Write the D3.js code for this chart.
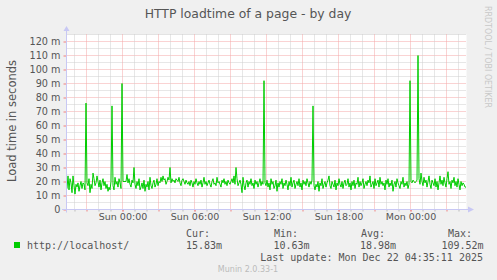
<!DOCTYPE html>
<html>
<head>
<meta charset="utf-8">
<script src="https://cdn.jsdelivr.net/npm/d3@7"></script>
<style>
  html, body { margin: 0; padding: 0; background: #f0f0f0; }
  svg { display: block; }
</style>
</head>
<body>
<script>
// load time samples (milliseconds), one every 5 minutes, oldest first
const loadtime = [
  15, 24, 14, 22, 19, 12, 24, 17, 11, 18, 16, 19, 13, 17, 20, 15, 19, 18, 14, 76,
  19, 17, 22, 12, 18, 15, 26, 22, 17, 19, 24, 20, 16, 21, 14, 19, 22, 17, 20, 15,
  18, 13, 16, 14, 20, 74, 17, 14, 23, 18, 20, 16, 22, 19, 15, 90, 20, 20, 20, 20,
  25, 19, 22, 18, 16, 21, 19, 30, 18, 15, 20, 17, 22, 14, 16, 19, 15, 21, 13, 18,
  16, 20, 14, 23, 17, 15, 19, 21, 16, 18, 22, 17, 20, 19, 23, 20, 24, 21, 22, 18,
  20, 23, 21, 30, 19, 22, 20, 21, 19, 22, 21, 20, 23, 19, 17, 21, 22, 20, 18, 21,
  19, 18, 20, 17, 21, 19, 16, 20, 18, 22, 19, 17, 20, 18, 21, 16, 19, 23, 18, 20,
  17, 19, 21, 18, 16, 20, 22, 18, 19, 17, 23, 19, 20, 18, 16, 21, 19, 22, 18, 20,
  17, 21, 19, 18, 20, 22, 19, 24, 18, 30, 22, 17, 19, 21, 18, 12, 23, 17, 14, 19,
  21, 16, 20, 18, 22, 17, 19, 15, 21, 18, 20, 16, 19, 22, 17, 20, 18, 92, 19, 17,
  21, 16, 19, 14, 22, 18, 20, 15, 17, 21, 13, 19, 16, 20, 18, 22, 15, 19, 17, 21,
  18, 14, 20, 17, 23, 16, 19, 21, 15, 18, 20, 17, 22, 16, 19, 14, 21, 18, 20, 17,
  22, 19, 16, 20, 18, 21, 74, 17, 14, 18, 16, 20, 13, 19, 17, 22, 15, 18, 20, 16,
  19, 21, 24, 17, 15, 20, 18, 16, 21, 14, 19, 17, 22, 18, 16, 20, 15, 19, 21, 17,
  18, 22, 16, 19, 14, 20, 17, 21, 15, 19, 18, 23, 16, 20, 17, 19, 22, 15, 18, 20,
  17, 21, 19, 24, 16, 18, 20, 15, 22, 17, 19, 21, 16, 23, 18, 20, 17, 19, 14, 21,
  18, 22, 16, 19, 17, 21, 13, 18, 20, 16, 22, 19, 17, 15, 20, 18, 23, 16, 19, 17,
  20, 15, 18, 92, 20, 19, 21, 20, 19, 20, 21, 110, 22, 18, 26, 20, 17, 23, 19, 21,
  16, 20, 24, 18, 15, 21, 19, 17, 22, 16, 20, 14, 19, 24, 18, 21, 17, 23, 19, 16,
  22, 27, 18, 20, 15, 21, 19, 23, 17, 20, 16, 22, 18, 14, 20, 17, 19, 18, 16, 16
];
const yTicks = [0, 10, 20, 30, 40, 50, 60, 70, 80, 90, 100, 110, 120];
const statNames = ["Cur:", "Min:", "Avg:", "Max:"];
const statValues = ["15.83m", "10.63m", "18.98m", "109.52m"];
const seriesName = "http://localhost/";
const lastUpdate = "Last update: Mon Dec 22 04:35:11 2025";

const W = 497, H = 280;
const start = new Date(2025, 11, 20, 19, 20);
const end = new Date(2025, 11, 22, 4, 40);
const step = 5 * 60 * 1000;

const svg = d3.select("body").append("svg")
    .attr("width", W)
    .attr("height", H)
    .style("font-family", "'DejaVu Sans', sans-serif");

svg.append("rect").attr("width", W).attr("height", H).attr("fill", "#f0f0f0");

const x = d3.scaleTime().domain([start, end]).range([66.5, 466.5]);
const y = d3.scaleLinear().domain([0, 120]).range([209.5, 41.5]);
const yTop = y(125);

// plot background
svg.append("rect")
    .attr("x", x.range()[0]).attr("y", yTop)
    .attr("width", x.range()[1] - x.range()[0])
    .attr("height", y(0) - yTop)
    .attr("fill", "#ffffff");

const grid = svg.append("g");
const minorColor = "#cfcfcf", majorColor = "#f4a6a6";

// horizontal grid
d3.range(5, 130, 5).forEach(v => {
    grid.append("line")
        .attr("x1", x.range()[0]).attr("x2", x.range()[1])
        .attr("y1", y(v)).attr("y2", y(v))
        .attr("stroke", v % 10 === 0 ? majorColor : minorColor)
        .attr("stroke-dasharray", "1,1");
});

// vertical grid: hourly minor, 3-hourly major
x.ticks(d3.timeHour.every(1)).forEach(t => {
    grid.append("line")
        .attr("x1", x(t)).attr("x2", x(t))
        .attr("y1", yTop).attr("y2", y(0))
        .attr("stroke", t.getHours() % 3 === 0 ? majorColor : minorColor)
        .attr("stroke-dasharray", "1,1");
});

// minor ticks below x axis
const xMinor = svg.append("g")
    .attr("transform", `translate(0,${y(0)})`)
    .call(d3.axisBottom(x).ticks(d3.timeHour.every(1)).tickSize(2).tickFormat(""));
xMinor.select(".domain").remove();
xMinor.selectAll(".tick line").attr("stroke", d => d.getHours() % 3 === 0 ? "#f08080" : "#bbbbbb");

// y axis labels
const yAxis = svg.append("g")
    .attr("transform", `translate(${x.range()[0]},0)`)
    .call(d3.axisLeft(y).tickValues(yTicks).tickSize(3).tickPadding(3)
        .tickFormat(d => d === 0 ? "0" : d + " m"));
yAxis.select(".domain").remove();
yAxis.selectAll(".tick line").attr("stroke", "#f08080");
yAxis.selectAll("text")
    .attr("fill", "#555")
    .style("font-family", "'DejaVu Sans', sans-serif")
    .style("font-size", "9.7px");

// x axis labels
const xAxis = svg.append("g")
    .attr("transform", `translate(0,${y(0)})`)
    .call(d3.axisBottom(x).ticks(d3.timeHour.every(6)).tickSize(2).tickPadding(2)
        .tickFormat(d3.timeFormat("%a %H:%M")));
xAxis.select(".domain").remove();
xAxis.selectAll(".tick line").attr("stroke", "#f08080");
xAxis.selectAll("text")
    .attr("fill", "#555")
    .style("font-family", "'DejaVu Sans', sans-serif")
    .style("font-size", "9.5px");

// data line
svg.append("clipPath").attr("id", "plotclip")
    .append("rect")
    .attr("x", x.range()[0]).attr("y", yTop - 1)
    .attr("width", x.range()[1] - x.range()[0])
    .attr("height", y(0) - yTop + 1);

const points = loadtime.map((v, i) => ({ t: new Date(+start + (i + 0.5) * step), v: v }));
svg.append("path")
    .datum(points)
    .attr("clip-path", "url(#plotclip)")
    .attr("fill", "none")
    .attr("stroke", "#00cc00")
    .attr("stroke-width", 1)
    .attr("d", d3.line().x(d => x(d.t)).y(d => y(d.v)));

// axes with arrows
const axisColor = "#c8c8f4";
svg.append("line")
    .attr("x1", 62).attr("x2", 469).attr("y1", y(0)).attr("y2", y(0))
    .attr("stroke", axisColor);
svg.append("path")
    .attr("d", `M468,${y(0) - 3}L474,${y(0)}L468,${y(0) + 3}Z`)
    .attr("fill", axisColor);
svg.append("line")
    .attr("x1", x.range()[0]).attr("x2", x.range()[0]).attr("y1", y(0) + 3).attr("y2", 30)
    .attr("stroke", axisColor);
svg.append("path")
    .attr("d", `M${x.range()[0] - 3},31L${x.range()[0]},26L${x.range()[0] + 3},31Z`)
    .attr("fill", axisColor);

// title and y label
svg.append("text")
    .attr("x", 248).attr("y", 18)
    .attr("text-anchor", "middle")
    .attr("fill", "#555")
    .style("font-size", "12.4px")
    .text("HTTP loadtime of a page - by day");

svg.append("text")
    .attr("transform", "translate(15.5,121) rotate(-90)")
    .attr("text-anchor", "middle")
    .attr("fill", "#555")
    .style("font-size", "11.5px")
    .text("Load time in seconds");

svg.append("text")
    .attr("transform", "translate(485,6) rotate(90)")
    .attr("fill", "#c8c8c8")
    .attr("textLength", 102)
    .attr("lengthAdjust", "spacingAndGlyphs")
    .style("font-size", "8px")
    .text("RRDTOOL / TOBI OETIKER");

// legend
const mono = "'DejaVu Sans Mono', monospace";
svg.append("rect")
    .attr("x", 14).attr("y", 242).attr("width", 6).attr("height", 6)
    .attr("fill", "#00cc00");
svg.append("text")
    .attr("x", 27).attr("y", 249)
    .attr("fill", "#555")
    .style("font-family", mono).style("font-size", "10px")
    .text(seriesName);

const nameX = [186, 274, 361, 448];
const valueX = [186, 273.5, 360, 441.5];
statNames.forEach((s, i) => {
    svg.append("text")
        .attr("x", nameX[i]).attr("y", 237)
        .attr("fill", "#555")
        .style("font-family", mono).style("font-size", "10px")
        .text(s);
    svg.append("text")
        .attr("x", valueX[i]).attr("y", 249)
        .attr("fill", "#555")
        .style("font-family", mono).style("font-size", "10px")
        .text(statValues[i]);
});

svg.append("text")
    .attr("x", 483).attr("y", 261)
    .attr("text-anchor", "end")
    .attr("fill", "#555")
    .style("font-family", mono).style("font-size", "10px")
    .text(lastUpdate);

svg.append("text")
    .attr("x", 248).attr("y", 271.5)
    .attr("text-anchor", "middle")
    .attr("fill", "#bbbbbb")
    .style("font-size", "8px")
    .text("Munin 2.0.33-1");
</script>
</body>
</html>
